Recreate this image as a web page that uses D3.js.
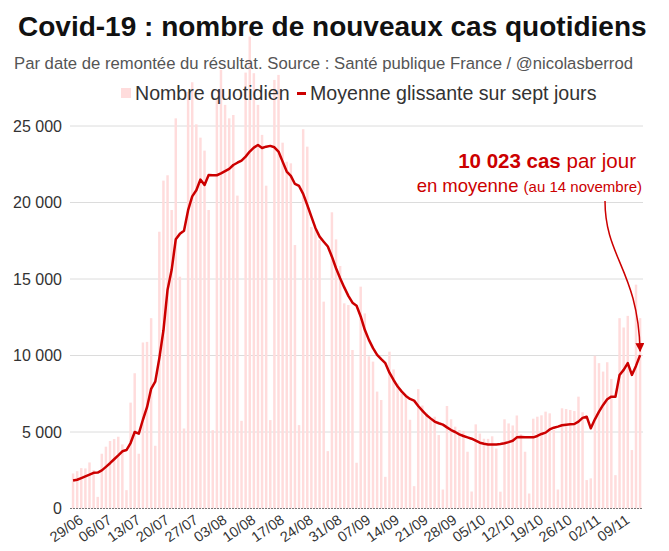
<!DOCTYPE html>
<html>
<head>
<meta charset="utf-8">
<script src="https://cdn.jsdelivr.net/npm/d3@7"></script>
<style>
  body { margin: 0; background: #fff; }
  svg text { font-family: "Liberation Sans", Arial, sans-serif; }
</style>
</head>
<body>
<svg class="chart"></svg>
<script>
// daily new cases, 29/06 -> 14/11
var dailyCases = [
  2290, 2440, 2640, 2620, 3010, 2510, 760,
  3580, 4040, 4410, 4540, 4690, 4190, 1200,
  6920, 8840, 3580, 10850, 10890, 12440, 4100,
  18090, 21430, 21780, 19510, 25500, 15150, 5230,
  27230, 27860, 25110, 24240, 23390, 19510, 5120,
  26730, 28670, 26380, 25500, 25720, 20450, 5730,
  28490, 30850, 28450, 26380, 24420, 21100, 5780,
  28010, 28340, 23910, 22670, 22560, 17220, 5450,
  24790, 23650, 18400, 18200, 17550, 13520, 3750,
  19360, 17590, 15850, 13410, 13300, 10360, 2990,
  14500, 12750, 9950, 9600, 7640, 7090, 2070,
  10250, 9090, 8180, 7500, 7350, 5800, 1460,
  7800, 6730, 6270, 5920, 6000, 4800, 1240,
  6700, 5830, 5350, 5130, 5070, 3710, 1110,
  5500, 4900, 4560, 4550, 4720, 3920, 1100,
  5830, 5560, 5430, 6080, 4850, 3710, 980,
  5870, 6000, 6090, 6330, 6220, 5130, 1240,
  6550, 6500, 6440, 6370, 7310, 6290, 1860,
  1970, 9980, 9500, 8950, 9560, 8470, 2180,
  12440, 11830, 12590, 3820, 14630, 12440
];

// seven-day rolling average, as drawn
var rollingAvg = [
  1830, 1880, 1990, 2100, 2210, 2330, 2350,
  2490, 2720, 2960, 3220, 3470, 3740, 3820,
  4280, 5000, 4890, 5800, 6620, 7820, 8290,
  9830, 11650, 14300, 15600, 17600, 17950, 18150,
  19500, 20400, 20800, 21500, 21150, 21800, 21780,
  21780, 21900, 22050, 22200, 22450, 22600, 22740,
  23000, 23330, 23590, 23760, 23560, 23650, 23700,
  23610, 23330, 22670, 22020, 21740, 21210, 21080,
  20560, 19840, 19080, 18320, 17770, 17440, 17120,
  16460, 15700, 15050, 14450, 13900, 13450, 13250,
  12550, 11680, 11020, 10480, 10040, 9760, 9500,
  8880, 8400, 7970, 7640, 7360, 7160, 7050,
  6700, 6400, 6110, 5890, 5680, 5570, 5480,
  5300, 5130, 5000, 4850, 4740, 4650, 4560,
  4430, 4300, 4230, 4190, 4190, 4190, 4210,
  4260, 4340, 4430, 4650, 4670, 4650, 4650,
  4650, 4740, 4870, 4960, 5170, 5280, 5350,
  5440, 5480, 5500, 5520, 5680, 5920, 6000,
  5240, 5830, 6330, 6770, 7140, 7310, 7310,
  8730, 9060, 9500, 8730, 9320, 10023
];

var yTicks = [0, 5000, 10000, 15000, 20000, 25000];
var xTickLabels = ["29/06", "06/07", "13/07", "20/07", "27/07", "03/08", "10/08",
  "17/08", "24/08", "31/08", "07/09", "14/09", "21/09", "28/09", "05/10",
  "12/10", "19/10", "26/10", "02/11", "09/11"];

var days = d3.timeDay.range(new Date(2021, 5, 29), new Date(2021, 10, 15));
var data = days.map(function(d, i) {
  return {date: d, cases: dailyCases[i], avg: rollingAvg[i]};
});

var frFormat = d3.formatLocale({decimal: ",", thousands: " ", grouping: [3], currency: ["", " €"]}).format(",d");
var dayFmt = d3.timeFormat("%d/%m");

var width = 669, height = 551;
var margin = {top: 126, right: 26, bottom: 42.5, left: 71};

var svg = d3.select(".chart").attr("width", width).attr("height", height);

var x = d3.scaleBand()
  .domain(days.map(dayFmt))
  .range([margin.left, margin.left + 139 * 4.109])
  .paddingInner(0.4)
  .paddingOuter(0.2);

var y = d3.scaleLinear()
  .domain([0, 25000])
  .range([height - margin.bottom, margin.top]);

// grid
svg.append("g")
  .selectAll("line")
  .data(yTicks.slice(1))
  .enter().append("line")
  .attr("x1", 70).attr("x2", 643)
  .attr("y1", function(d) { return y(d); })
  .attr("y2", function(d) { return y(d); })
  .attr("stroke", "#dcdcdc")
  .attr("stroke-width", 1);

// bars
svg.append("g")
  .selectAll("rect")
  .data(data)
  .enter().append("rect")
  .attr("x", function(d) { return x(dayFmt(d.date)); })
  .attr("width", x.bandwidth())
  .attr("y", function(d) { return y(d.cases); })
  .attr("height", function(d) { return y(0) - y(d.cases); })
  .attr("fill", "#ffdcdc");

// baseline
svg.append("line")
  .attr("x1", 70).attr("x2", 643)
  .attr("y1", y(0)).attr("y2", y(0))
  .attr("stroke", "#777")
  .attr("stroke-dasharray", "2,1");

// y axis labels
var yAxis = d3.axisLeft(y).tickValues(yTicks).tickSize(0).tickPadding(0).tickFormat(frFormat);
svg.append("g")
  .attr("transform", "translate(62,0)")
  .call(yAxis)
  .call(function(g) { g.select(".domain").remove(); })
  .selectAll("text")
  .attr("font-size", 16)
  .attr("fill", "#333")
  .attr("dy", "0.34em");

// x axis labels, one per week
var tickDays = days.filter(function(d, i) { return i % 7 === 0; });
svg.append("g")
  .selectAll("text")
  .data(tickDays)
  .enter().append("text")
  .attr("transform", function(d, i) {
    var cx = x(dayFmt(d)) + x.bandwidth() / 2;
    return "translate(" + (cx + 11) + ",522) rotate(-35)";
  })
  .attr("text-anchor", "end")
  .attr("font-size", 14.5)
  .attr("fill", "#333")
  .text(function(d, i) { return xTickLabels[i]; });

// rolling average line
var line = d3.line()
  .x(function(d) { return x(dayFmt(d.date)) + x.bandwidth() / 2; })
  .y(function(d) { return y(d.avg); });

svg.append("path")
  .datum(data)
  .attr("d", line)
  .attr("fill", "none")
  .attr("stroke", "#cc0000")
  .attr("stroke-width", 2.5)
  .attr("stroke-linejoin", "round");

// headings
svg.append("text")
  .attr("x", 18).attr("y", 36)
  .attr("font-size", 28).attr("font-weight", "bold").attr("fill", "#111")
  .text("Covid-19 : nombre de nouveaux cas quotidiens");

svg.append("text")
  .attr("x", 14).attr("y", 69)
  .attr("font-size", 16.7).attr("fill", "#555")
  .text("Par date de remontée du résultat. Source : Santé publique France / @nicolasberrod");

// legend
var legend = svg.append("g");
legend.append("rect").attr("x", 121).attr("y", 88).attr("width", 10).attr("height", 10).attr("fill", "#ffdcdc");
legend.append("text").attr("x", 135).attr("y", 100).attr("font-size", 19.6).attr("fill", "#333").text("Nombre quotidien");
legend.append("rect").attr("x", 297).attr("y", 92).attr("width", 9).attr("height", 3).attr("fill", "#cc0000");
legend.append("text").attr("x", 310).attr("y", 100).attr("font-size", 19.6).attr("fill", "#333").text("Moyenne glissante sur sept jours");

// annotation
var last = data[data.length - 1];
var note = svg.append("g").attr("fill", "#cc0000");
var t1 = note.append("text").attr("x", 636).attr("y", 168).attr("text-anchor", "end").attr("font-size", 20.5);
t1.append("tspan").attr("font-weight", "bold").text(frFormat(last.avg) + " cas");
t1.append("tspan").text(" par jour");
var t2 = note.append("text").attr("x", 642).attr("y", 192).attr("text-anchor", "end").attr("font-size", 18.5);
t2.append("tspan").text("en moyenne ");
t2.append("tspan").attr("font-size", 15).text("(au 14 novembre)");

svg.append("defs").append("marker")
  .attr("id", "head")
  .attr("viewBox", "0 0 10 10")
  .attr("refX", 9).attr("refY", 5)
  .attr("markerWidth", 6).attr("markerHeight", 6)
  .attr("orient", "auto")
  .append("path").attr("d", "M0,0L10,5L0,10z").attr("fill", "#cc0000");

var tipX = x(dayFmt(last.date)) + x.bandwidth() / 2;
var tipY = y(last.avg) - 4;
svg.append("path")
  .attr("d", "M605,201 C605,258 " + (tipX - 2) + ",270 " + tipX + "," + tipY)
  .attr("fill", "none")
  .attr("stroke", "#cc0000")
  .attr("stroke-width", 1.5)
  .attr("marker-end", "url(#head)");
</script>
</body>
</html>
